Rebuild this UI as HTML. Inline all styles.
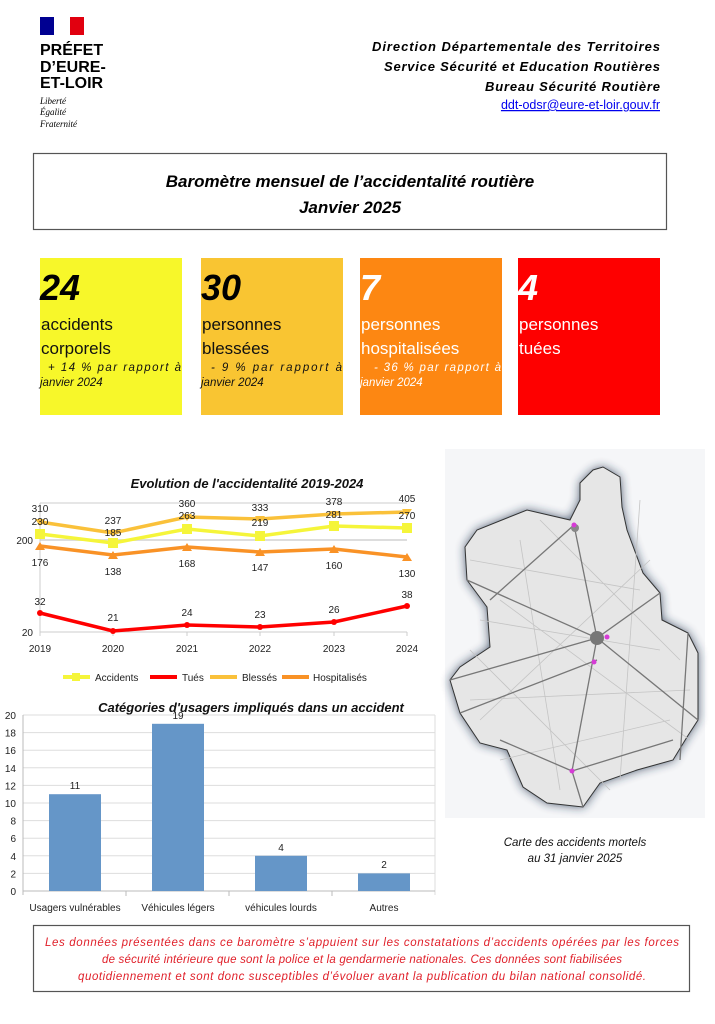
<!DOCTYPE html>
<html><head><meta charset="utf-8"><style>
html,body{margin:0;padding:0;background:#fff;}
svg{display:block;font-family:"Liberation Sans",sans-serif;}
</style></head><body>
<svg width="715" height="1024" viewBox="0 0 715 1024" xmlns="http://www.w3.org/2000/svg">
<defs>
<filter id="blur" x="-20%" y="-20%" width="140%" height="140%"><feGaussianBlur stdDeviation="5"/></filter>
</defs>
<rect x="40" y="17" width="14" height="18" fill="#000091"/>
<rect x="54" y="17" width="16" height="18" fill="#fff"/>
<rect x="70" y="17" width="14" height="18" fill="#e1000f"/>
<g font-weight="bold" font-size="16" fill="#000">
<text x="40" y="55">PRÉFET</text>
<text x="40" y="72">D’EURE-</text>
<text x="40" y="88">ET-LOIR</text>
</g>
<g font-family="Liberation Serif,serif" font-style="italic" font-size="9" fill="#000">
<text x="40" y="104">Liberté</text>
<text x="40" y="115">Égalité</text>
<text x="40" y="127">Fraternité</text>
</g>
<g font-style="italic" font-weight="bold" font-size="13" text-anchor="end" fill="#000">
<text x="660" y="51" textLength="288">Direction Départementale des Territoires</text>
<text x="660" y="71" textLength="276">Service Sécurité et Education Routières</text>
<text x="660" y="91" textLength="175">Bureau Sécurité Routière</text>
</g>
<text x="660" y="109" text-anchor="end" font-size="12.5" fill="#0000ee" text-decoration="underline">ddt-odsr@eure-et-loir.gouv.fr</text>

<rect x="33.5" y="153.5" width="633" height="76" fill="#fff" stroke="#555" stroke-width="1.2"/>
<g font-style="italic" font-weight="bold" font-size="17" text-anchor="middle" fill="#000">
<text x="350" y="187">Baromètre mensuel de l’accidentalité routière</text>
<text x="350" y="213">Janvier 2025</text>
</g>

<rect x="40" y="258" width="142" height="157" fill="#f7f72a"/>
<rect x="201" y="258" width="142" height="157" fill="#f9c532"/>
<rect x="360" y="258" width="142" height="157" fill="#fd8712"/>
<rect x="518" y="258" width="142" height="157" fill="#fe0000"/>
<g font-style="italic" font-weight="bold" font-size="36">
<text x="40" y="300" fill="#000">24</text>
<text x="201" y="300" fill="#000">30</text>
<text x="360" y="300" fill="#fff">7</text>
<text x="518" y="300" fill="#fff">4</text>
</g>
<g font-size="17">
<text x="41" y="330" fill="#111">accidents</text>
<text x="41" y="354" fill="#111">corporels</text>
<text x="202" y="330" fill="#111">personnes</text>
<text x="202" y="354" fill="#111">blessées</text>
<text x="361" y="330" fill="#fff">personnes</text>
<text x="361" y="354" fill="#fff">hospitalisées</text>
<text x="519" y="330" fill="#fff">personnes</text>
<text x="519" y="354" fill="#fff">tuées</text>
</g>
<g font-style="italic" font-size="11.5">
<text x="48" y="371" fill="#111" textLength="133">+ 14 % par rapport à</text>
<text x="40" y="386" fill="#111">janvier 2024</text>
<text x="211" y="371" fill="#111" textLength="131">- 9 % par rapport à</text>
<text x="201" y="386" fill="#111">janvier 2024</text>
<text x="374" y="371" fill="#fff" textLength="127">- 36 % par rapport à</text>
<text x="360" y="386" fill="#fff">janvier 2024</text>
</g>

<text x="247" y="488" text-anchor="middle" font-style="italic" font-weight="bold" font-size="13" fill="#111">Evolution de l'accidentalité 2019-2024</text>
<line x1="40" y1="503" x2="407" y2="503" stroke="#ccc"/>
<line x1="40" y1="540" x2="407" y2="540" stroke="#ddd" stroke-width="2"/>
<line x1="40" y1="632" x2="407" y2="632" stroke="#ccc"/>
<line x1="40" y1="503" x2="40" y2="636" stroke="#ccc"/>
<g stroke="#ccc"><line x1="113" y1="632" x2="113" y2="636"/><line x1="187" y1="632" x2="187" y2="636"/><line x1="260" y1="632" x2="260" y2="636"/><line x1="334" y1="632" x2="334" y2="636"/><line x1="407" y1="632" x2="407" y2="636"/></g>
<g font-size="10" fill="#222">
<text x="33" y="544" text-anchor="end">200</text>
<text x="33" y="636" text-anchor="end">20</text>
<g text-anchor="middle"><text x="40" y="652">2019</text><text x="113" y="652">2020</text><text x="187" y="652">2021</text><text x="260" y="652">2022</text><text x="334" y="652">2023</text><text x="407" y="652">2024</text></g>
</g>
<polyline points="40,522 113,533 187,517 260,519 334,514 407,512" fill="none" stroke="#fac13a" stroke-width="3.5"/>
<polyline points="40,534 113,543 187,529 260,536 334,526 407,528" fill="none" stroke="#f5f53a" stroke-width="3.5"/>
<polyline points="40,546 113,555 187,547 260,552 334,549 407,557" fill="none" stroke="#f99226" stroke-width="3.5"/>
<polyline points="40,613 113,631 187,625 260,627 334,622 407,606" fill="none" stroke="#f00" stroke-width="3.5"/>
<g fill="#fac13a"><path d="M35,519h10l-5,7z"/><path d="M108,530h10l-5,7z"/><path d="M182,514h10l-5,7z"/><path d="M255,516h10l-5,7z"/><path d="M329,511h10l-5,7z"/><path d="M402,509h10l-5,7z"/></g>
<g fill="#f5f53a"><rect x="35" y="529" width="10" height="10"/><rect x="108" y="538" width="10" height="10"/><rect x="182" y="524" width="10" height="10"/><rect x="255" y="531" width="10" height="10"/><rect x="329" y="521" width="10" height="10"/><rect x="402" y="523" width="10" height="10"/></g>
<g fill="#f99226"><path d="M35,550h10l-5,-8z"/><path d="M108,559h10l-5,-8z"/><path d="M182,551h10l-5,-8z"/><path d="M255,556h10l-5,-8z"/><path d="M329,553h10l-5,-8z"/><path d="M402,561h10l-5,-8z"/></g>
<g fill="#f00"><circle cx="40" cy="613" r="3"/><circle cx="113" cy="631" r="3"/><circle cx="187" cy="625" r="3"/><circle cx="260" cy="627" r="3"/><circle cx="334" cy="622" r="3"/><circle cx="407" cy="606" r="3"/></g>
<g font-size="10" fill="#222" text-anchor="middle">
<text x="40" y="512">310</text><text x="40" y="525">230</text>
<text x="113" y="524">237</text><text x="113" y="536">185</text>
<text x="187" y="507">360</text><text x="187" y="519">263</text>
<text x="260" y="511">333</text><text x="260" y="526">219</text>
<text x="334" y="505">378</text><text x="334" y="518">281</text>
<text x="407" y="502">405</text><text x="407" y="519">270</text>
<text x="40" y="566">176</text><text x="113" y="575">138</text><text x="187" y="567">168</text><text x="260" y="571">147</text><text x="334" y="569">160</text><text x="407" y="577">130</text>
<text x="40" y="605">32</text><text x="113" y="621">21</text><text x="187" y="616">24</text><text x="260" y="618">23</text><text x="334" y="613">26</text><text x="407" y="598">38</text>
</g>
<g font-size="10" fill="#222">
<line x1="63" y1="677" x2="90" y2="677" stroke="#f5f53a" stroke-width="4"/><rect x="72" y="673" width="8" height="8" fill="#f5f53a"/><text x="95" y="681">Accidents</text>
<line x1="150" y1="677" x2="177" y2="677" stroke="#f00" stroke-width="4"/><text x="182" y="681">Tués</text>
<line x1="210" y1="677" x2="237" y2="677" stroke="#fac13a" stroke-width="4"/><text x="242" y="681">Blessés</text>
<line x1="282" y1="677" x2="309" y2="677" stroke="#f99226" stroke-width="4"/><text x="313" y="681">Hospitalisés</text>
</g>

<g stroke="#ddd">
<line x1="23" y1="715" x2="435" y2="715"/><line x1="23" y1="732.6" x2="435" y2="732.6"/><line x1="23" y1="750.2" x2="435" y2="750.2"/><line x1="23" y1="767.8" x2="435" y2="767.8"/><line x1="23" y1="785.4" x2="435" y2="785.4"/><line x1="23" y1="803" x2="435" y2="803"/><line x1="23" y1="820.6" x2="435" y2="820.6"/><line x1="23" y1="838.2" x2="435" y2="838.2"/><line x1="23" y1="855.8" x2="435" y2="855.8"/><line x1="23" y1="873.4" x2="435" y2="873.4"/>
<line x1="435" y1="715" x2="435" y2="895"/>
</g>
<line x1="23" y1="891" x2="435" y2="891" stroke="#bbb"/>
<line x1="23" y1="715" x2="23" y2="895" stroke="#bbb"/>
<g stroke="#bbb"><line x1="126" y1="891" x2="126" y2="896"/><line x1="229" y1="891" x2="229" y2="896"/><line x1="332" y1="891" x2="332" y2="896"/></g>
<g fill="#6596c8">
<rect x="49" y="794.2" width="52" height="96.8"/>
<rect x="152" y="723.8" width="52" height="167.2"/>
<rect x="255" y="855.8" width="52" height="35.2"/>
<rect x="358" y="873.4" width="52" height="17.6"/>
</g>
<g font-size="10" fill="#222" text-anchor="end">
<text x="16" y="719">20</text><text x="16" y="736.6">18</text><text x="16" y="754.2">16</text><text x="16" y="771.8">14</text><text x="16" y="789.4">12</text><text x="16" y="807">10</text><text x="16" y="824.6">8</text><text x="16" y="842.2">6</text><text x="16" y="859.8">4</text><text x="16" y="877.4">2</text><text x="16" y="895">0</text>
</g>
<text x="251" y="712" text-anchor="middle" font-style="italic" font-weight="bold" font-size="13" fill="#111">Catégories d'usagers impliqués dans un accident</text>
<g font-size="10" fill="#222" text-anchor="middle">
<text x="75" y="789">11</text><text x="178" y="719">19</text><text x="281" y="851">4</text><text x="384" y="868">2</text>
<text x="75" y="911">Usagers vulnérables</text><text x="178" y="911">Véhicules légers</text><text x="281" y="911">véhicules lourds</text><text x="384" y="911">Autres</text>
</g>

<rect x="445" y="449" width="260" height="369" fill="#f5f6f8"/>
<polygon points="603,467 620,477 622,507 627,530 643,573 660,593 662,620 688,633 698,653 698,720 687,737 673,760 637,770 600,783 583,807 547,803 523,787 507,750 480,743 460,713 450,680 460,667 490,647 487,607 467,580 465,547 477,530 527,510 570,520 580,500 580,483 593,470" fill="#1f2e4a" filter="url(#blur)" opacity="0.8"/>
<polygon points="603,467 620,477 622,507 627,530 643,573 660,593 662,620 688,633 698,653 698,720 687,737 673,760 637,770 600,783 583,807 547,803 523,787 507,750 480,743 460,713 450,680 460,667 490,647 487,607 467,580 465,547 477,530 527,510 570,520 580,500 580,483 593,470" fill="#e6e6e6" stroke="#333" stroke-width="1"/>
<g stroke="#c4c4c4" stroke-width="0.8" fill="none">
<path d="M470,560 L640,590 M480,620 L660,650 M470,700 L690,690 M500,760 L670,720 M520,540 L560,790 M640,500 L620,780 M480,720 L650,560 M500,600 L690,740 M540,520 L680,660 M470,650 L610,790"/>
</g>
<g stroke="#777" stroke-width="1.3" fill="none">
<path d="M574,525 L597,638 L572,771 L583,807"/>
<path d="M597,638 L698,720"/>
<path d="M597,638 L660,593"/>
<path d="M597,638 L467,580"/>
<path d="M597,638 L450,680 M460,713 L597,660"/>
<path d="M574,525 L490,600"/>
<path d="M572,771 L673,740"/>
<path d="M572,771 L500,740"/>
<path d="M688,633 L680,760"/>
</g>
<circle cx="597" cy="638" r="7" fill="#777"/>
<circle cx="575" cy="528" r="4" fill="#888"/>
<g fill="#d63bd6"><circle cx="574" cy="525" r="2.5"/><circle cx="607" cy="637" r="2.5"/><circle cx="594" cy="662" r="2.5"/><circle cx="572" cy="771" r="2.5"/></g>
<g font-style="italic" font-size="11.5" fill="#111" text-anchor="middle">
<text x="575" y="846">Carte des accidents mortels</text>
<text x="575" y="862">au 31 janvier 2025</text>
</g>

<rect x="33.5" y="925.5" width="656" height="66" fill="#fff" stroke="#555" stroke-width="1.2"/>
<g font-style="italic" font-size="11.5" fill="#e0202a" text-anchor="middle">
<text x="362" y="946" textLength="634">Les données présentées dans ce baromètre s’appuient sur les constatations d’accidents opérées par les forces</text>
<text x="362" y="963" textLength="520">de sécurité intérieure que sont la police et la gendarmerie nationales. Ces données sont fiabilisées</text>
<text x="362" y="980" textLength="568">quotidiennement et sont donc susceptibles d’évoluer avant la publication du bilan national consolidé.</text>
</g>
</svg>
</body></html>
